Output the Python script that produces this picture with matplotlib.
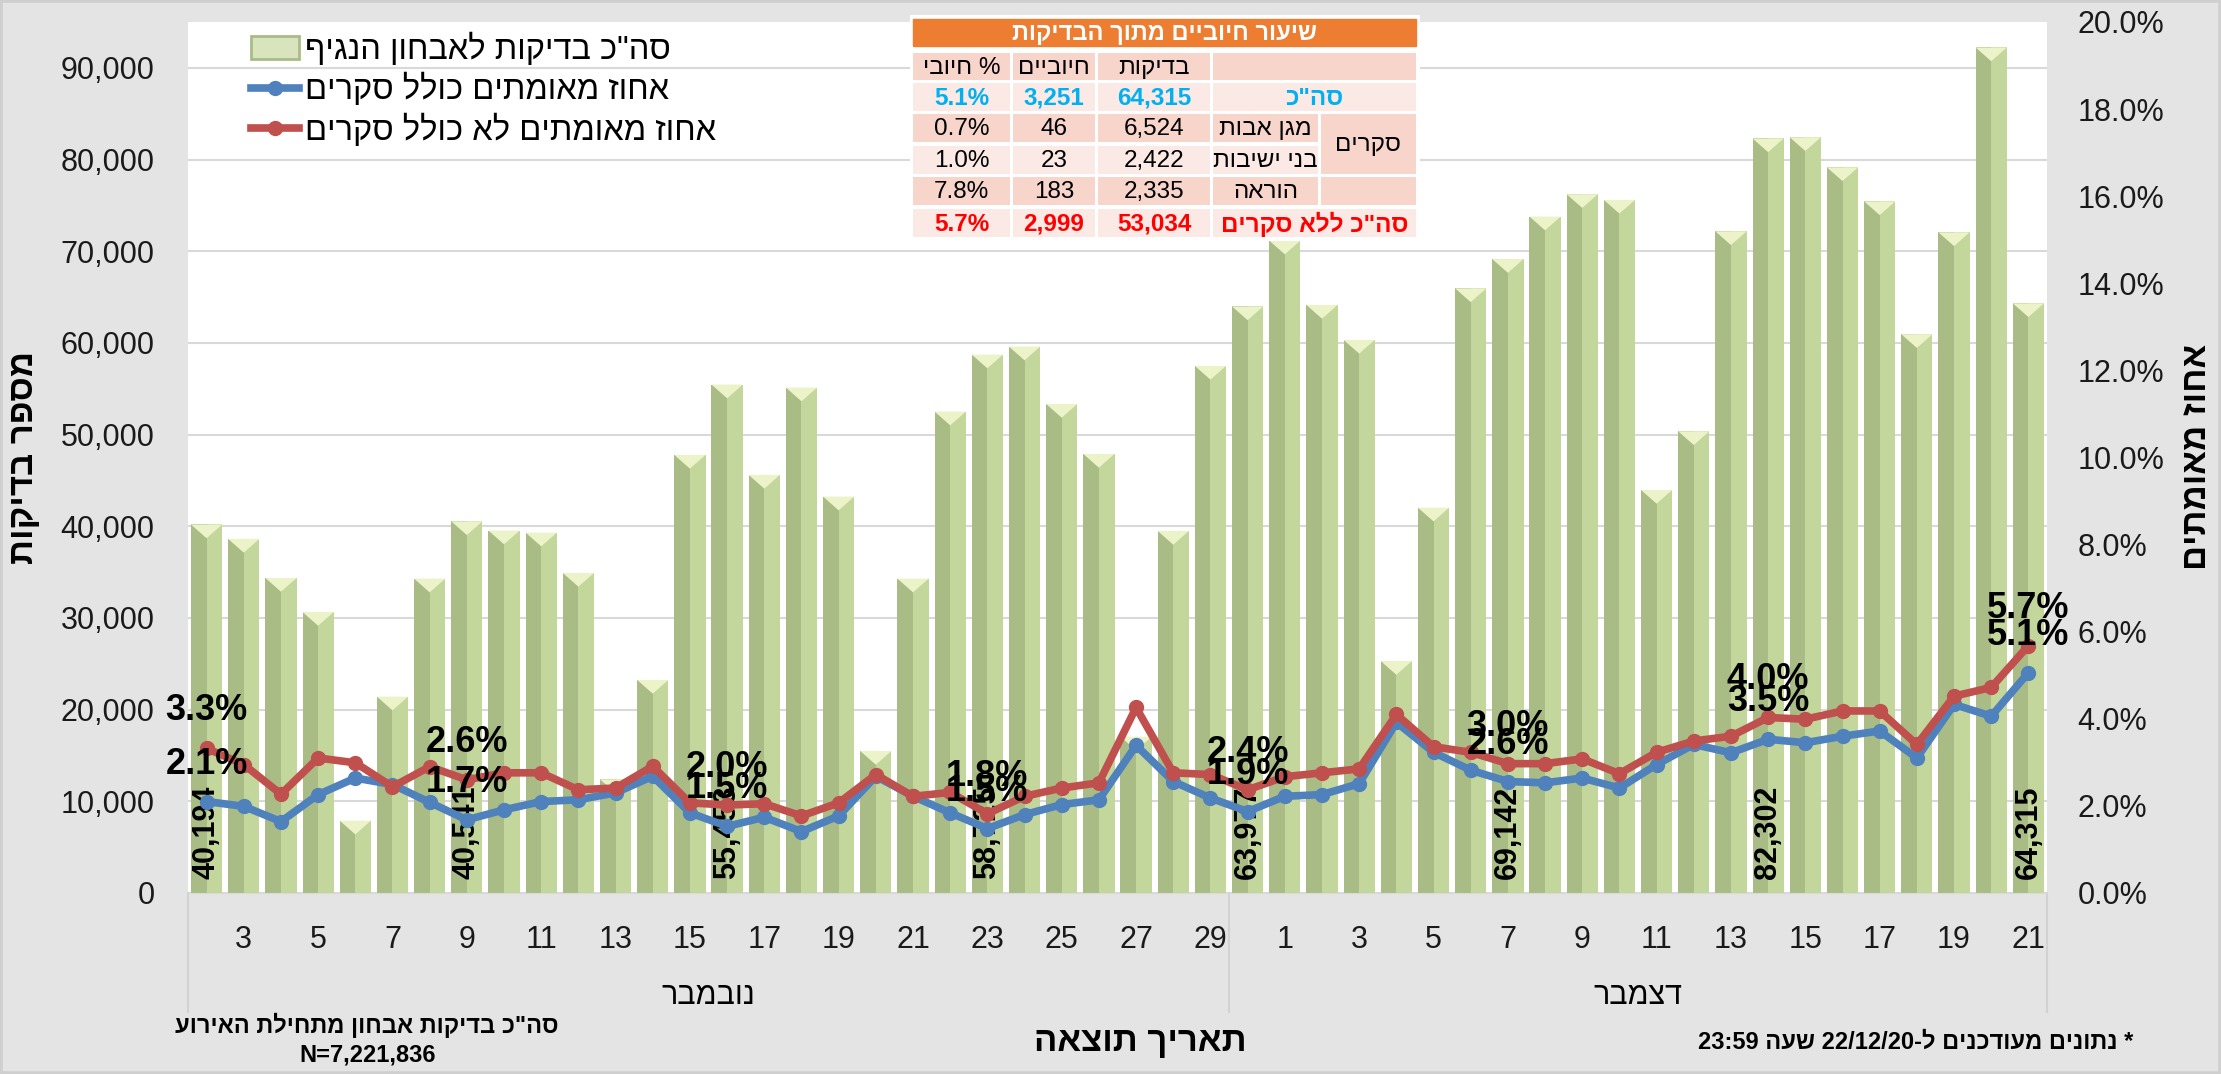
import matplotlib
matplotlib.use("Agg")
import matplotlib.pyplot as plt
import matplotlib.transforms as mtransforms
from matplotlib.lines import Line2D
from matplotlib.patches import Patch, Rectangle
from matplotlib.ticker import FuncFormatter, MultipleLocator
import numpy as np

plt.rcParams['font.family'] = ['Liberation Sans', 'DejaVu Sans']

# ---------------------------------------------------------------- data
day_labels = ['2', '3', '4', '5', '6', '7', '8', '9', '10', '11', '12', '13', '14', '15',
              '16', '17', '18', '19', '20', '21', '22', '23', '24', '25', '26', '27', '28',
              '29', '30',
              '1', '2', '3', '4', '5', '6', '7', '8', '9', '10', '11', '12', '13', '14',
              '15', '16', '17', '18', '19', '20', '21']
month_names = ['נובמבר', 'דצמבר']
month_sizes = [28, 22]          # categories under each month label in the source chart

tests = [40194, 38620, 34360, 30650, 7890, 21420, 34290, 40541, 39530, 39310,
         34910, 12400, 23240, 47780, 55453, 45600, 55130, 43240, 15490, 34290,
         52510, 58725, 59600, 53340, 47890, 17050, 39490, 57490, 63977, 71160,
         64140, 60330, 25300, 42030, 65950, 69142, 73780, 76220, 75600, 43960,
         50360, 72170, 82302, 82430, 79150, 75440, 60950, 72060, 92220, 64315]

# percent positive, including screening tests (blue)
pos_incl = [2.10, 1.99, 1.64, 2.26, 2.64, 2.49, 2.08, 1.68, 1.91, 2.10,
            2.14, 2.30, 2.68, 1.84, 1.53, 1.74, 1.41, 1.77, 2.68, 2.22,
            1.84, 1.48, 1.80, 2.03, 2.14, 3.39, 2.56, 2.18, 1.87, 2.22,
            2.26, 2.51, 3.92, 3.23, 2.82, 2.56, 2.53, 2.64, 2.41, 2.95,
            3.41, 3.22, 3.53, 3.45, 3.60, 3.72, 3.10, 4.33, 4.06, 5.06]

# percent positive, excluding screening tests (red)
pos_excl = [3.32, 2.95, 2.27, 3.10, 2.99, 2.44, 2.90, 2.60, 2.76, 2.76,
            2.37, 2.41, 2.91, 2.07, 2.02, 2.05, 1.77, 2.07, 2.72, 2.22,
            2.31, 1.82, 2.22, 2.41, 2.53, 4.26, 2.76, 2.72, 2.37, 2.67,
            2.76, 2.85, 4.10, 3.36, 3.23, 2.97, 2.97, 3.08, 2.74, 3.23,
            3.49, 3.60, 4.03, 3.99, 4.18, 4.18, 3.41, 4.52, 4.72, 5.68]

label_every = 7

legend_labels = ['סה"כ בדיקות לאבחון הנגיף', 'אחוז מאומתים כולל סקרים', 'אחוז מאומתים לא כולל סקרים']

tbl_title = 'שיעור חיוביים מתוך הבדיקות'
tbl_header = ['בדיקות', 'חיוביים', '% חיובי']
tbl_rows = ['סה"כ', 'מגן אבות', 'בני ישיבות', 'הוראה', 'סה"כ ללא סקרים']
tbl_group = 'סקרים'
tbl_tests = [64315, 6524, 2422, 2335, 53034]
tbl_pos = [3251, 46, 23, 183, 2999]
tbl_pct = [5.1, 0.7, 1.0, 7.8, 5.7]

note_total = 'סה"כ בדיקות אבחון מתחילת האירוע'
note_n = 'N=7,221,836'


def rtl(s):
    # visual order for pure Hebrew strings
    return s[::-1]


footnote = '23:59 ' + rtl('שעה') + ' 22/12/20-' + rtl('ל') + ' ' + rtl('מעודכנים') + ' ' + rtl('נתונים') + ' *'

# ---------------------------------------------------------------- figure
W, H = 2221, 1074
BG = '#E4E4E4'
fig = plt.figure(figsize=(W / 100, H / 100), dpi=100, facecolor=BG)
ax = fig.add_axes([188 / W, 1 - 893 / H, (2047 - 188) / W, (893 - 22) / H])
ax.set_facecolor('white')

x = np.arange(len(tests))
bw = 0.84
ax.bar(x - bw / 4, tests, width=bw / 2, color='#AABC86', zorder=2, lw=0)
ax.bar(x + bw / 4, tests, width=bw / 2, color='#C3D69B', zorder=2, lw=0)
bevel = 1500
for xi, v in zip(x, tests):
    ax.fill([xi - bw / 2, xi + bw / 2, xi], [v, v, v - bevel], color='#ECF3C8', zorder=3, lw=0)

ax.set_xlim(-0.5, len(tests) - 0.5)
ax.set_ylim(0, 95000)
ax.yaxis.set_major_locator(MultipleLocator(10000))
ax.yaxis.set_major_formatter(FuncFormatter(lambda v, p: f'{int(v):,}'))
ax.grid(axis='y', color='#D9D9D9', lw=1.5)
ax.set_axisbelow(True)
ax.set_xticks(x[1::2])
ax.set_xticklabels(day_labels[1::2])
ax.tick_params(axis='x', length=0, pad=23, labelsize=22, colors='#1a1a1a')
ax.tick_params(axis='y', length=0, pad=24, labelsize=22, colors='#1a1a1a')
for s in ax.spines.values():
    s.set_visible(False)
ax.spines['bottom'].set_visible(True)
ax.spines['bottom'].set_color('#D9D9D9')

# bar value labels
for i in range(0, len(tests), label_every):
    ax.annotate(f'{tests[i]:,}', xy=(x[i], 0), xytext=(0, 10), textcoords='offset points',
                rotation=90, ha='center', va='bottom', fontsize=22, fontweight='bold', zorder=4)

# month grouping under the axis
trans = mtransforms.blended_transform_factory(ax.transData, ax.transAxes)
bounds = np.concatenate([[0], np.cumsum(month_sizes)]) - 0.5
for b in bounds:
    ax.plot([b, b], [0, -0.137], transform=trans, clip_on=False, color='#D2D2D2', lw=1.5)
for name, lo, hi in zip(month_names, bounds[:-1], bounds[1:]):
    ax.text((lo + hi) / 2, -0.118, rtl(name), transform=trans, ha='center', va='center', fontsize=22)

# ---------------------------------------------------------------- percentage lines
ax2 = ax.twinx()
ax2.set_ylim(0, 20)
ax2.plot(x, pos_incl, color='#4F81BD', lw=5.5, marker='o', ms=10, zorder=4)
ax2.plot(x, pos_excl, color='#C0504D', lw=5.5, marker='o', ms=10, zorder=5)
ax2.yaxis.set_major_locator(MultipleLocator(2))
ax2.yaxis.set_major_formatter(FuncFormatter(lambda v, p: f'{v:.1f}%'))
ax2.tick_params(axis='y', length=0, pad=22, labelsize=22, colors='#1a1a1a')
for s in ax2.spines.values():
    s.set_visible(False)

for series in (pos_incl, pos_excl):
    for i in range(0, len(series), label_every):
        ax2.annotate(f'{series[i]:.1f}%', xy=(x[i], series[i]), xytext=(0, 27),
                     textcoords='offset points', ha='center', va='center',
                     fontsize=26, fontweight='bold', zorder=6)

handles = [Patch(facecolor='#D7E4BD', edgecolor='#A9BB86', lw=2),
           Line2D([], [], color='#4F81BD', lw=5.5, marker='o', ms=10),
           Line2D([], [], color='#C0504D', lw=5.5, marker='o', ms=10)]
ax2.legend(handles, [rtl(t) for t in legend_labels], loc='upper left',
           bbox_to_anchor=(0.034, 0.988), frameon=False, fontsize=23.5,
           handlelength=1.45, handletextpad=0.2, labelspacing=0.22,
           borderpad=0, borderaxespad=0)

# ---------------------------------------------------------------- table
tab = fig.add_axes([910 / W, 1 - 241 / H, 510 / W, 226 / H])
tab.set_xlim(910, 1420)
tab.set_ylim(241, 15)
tab.axis('off')
tab.add_patch(Rectangle((910, 15), 510, 226, color='white'))
tab.add_patch(Rectangle((913, 19), 503, 27, color='#ED7D31'))
tab.text(1164.5, 33, rtl(tbl_title), color='white', fontsize=17, fontweight='bold',
         ha='center', va='center')

DARK, LIGHT = '#F7D5CB', '#FBE9E5'
num_cols = [(913, 1010), (1013, 1095), (1098, 1210)]
lab_full, lab_sub, lab_grp = (1213, 1416), (1213, 1318), (1321, 1416)
row_y = [(53, 80), (83, 111), (114, 142), (146, 174), (177, 205), (209, 237)]


def cell(xr, yr, fill, text='', **kw):
    tab.add_patch(Rectangle((xr[0], yr[0]), xr[1] - xr[0], yr[1] - yr[0], color=fill, lw=0))
    if text:
        tab.text((xr[0] + xr[1]) / 2, (yr[0] + yr[1]) / 2 + 1, text, ha='center', va='center',
                 fontsize=17.5, **kw)


# header row (columns right-to-left: label, tests, positives, % positive)
for xr, t in zip(num_cols[::-1], tbl_header):
    cell(xr, row_y[0], DARK, rtl(t))
cell(lab_full, row_y[0], DARK)

row_colors = ['#00B0F0', 'black', 'black', 'black', '#FF0000']
for r in range(len(tbl_rows)):
    yr = row_y[r + 1]
    shade = LIGHT if r % 2 == 0 else DARK
    bold = 'bold' if row_colors[r] != 'black' else 'normal'
    vals = [f'{tbl_pct[r]:.1f}%', f'{tbl_pos[r]:,}', f'{tbl_tests[r]:,}']
    for xr, v in zip(num_cols, vals):
        cell(xr, yr, shade, v, color=row_colors[r], fontweight=bold)
    if r in (0, 4):
        cell(lab_full, yr, shade, rtl(tbl_rows[r]), color=row_colors[r], fontweight=bold)
    else:
        cell(lab_sub, yr, shade, rtl(tbl_rows[r]))
        if r == 3:
            cell(lab_grp, yr, DARK)
cell(lab_grp, (row_y[2][0], row_y[3][1]), DARK, rtl(tbl_group))

# ---------------------------------------------------------------- texts around the chart
fig.text(24 / W, 1 - 457 / H, rtl('מספר בדיקות'), rotation=90, fontsize=25,
         fontweight='bold', ha='center', va='center')
fig.text(2196 / W, 1 - 457 / H, rtl('אחוז מאומתים'), rotation=90, fontsize=25,
         fontweight='bold', ha='center', va='center')
fig.text(1140 / W, 1 - 1042 / H, rtl('תאריך תוצאה'), fontsize=25, fontweight='bold',
         ha='center', va='center')
fig.text(367 / W, 1 - 1025 / H, rtl(note_total), fontsize=17, fontweight='bold',
         ha='center', va='center')
fig.text(368 / W, 1 - 1055 / H, note_n, fontsize=17, fontweight='bold', ha='center', va='center')
fig.text(2133 / W, 1 - 1042 / H, footnote, fontsize=17, fontweight='bold', ha='right', va='center')

fig.patches.append(Rectangle((0, 0), 1, 1, transform=fig.transFigure, fill=False,
                             edgecolor='#CFCFCF', lw=4))

fig.savefig('out.png', dpi=100, facecolor=BG)
